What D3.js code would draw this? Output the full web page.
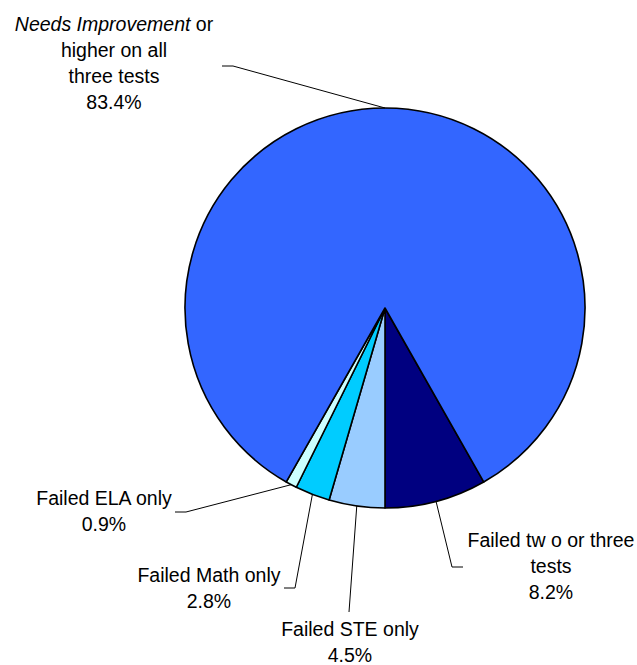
<!DOCTYPE html>
<html>
<head>
<meta charset="utf-8">
<script src="https://cdn.jsdelivr.net/npm/d3@7"></script>
<style>
  body { margin: 0; background: #fff; }
  svg text { font-family: "Liberation Sans", Arial, sans-serif; font-size: 19.5px; fill: #000; }
</style>
</head>
<body>
<svg id="chart" width="637" height="665"></svg>
<script>
// slices, clockwise starting from the dark one
const categories = ["Failed two or three tests", "Failed STE only", "Failed Math only", "Failed ELA only", "Needs Improvement or higher on all three tests"];
const values = [8.2, 4.5, 2.8, 0.9, 83.4];
const colors = ["#000080", "#99CCFF", "#00CCFF", "#CCFFFF", "#3366FF"];

// label text lines (as shown in the picture)
const labelLines = [
  ["Failed tw o or three", "tests", "8.2%"],
  ["Failed STE only", "4.5%"],
  ["Failed Math only", "2.8%"],
  ["Failed ELA only", "0.9%"],
  ["", "higher on all", "three tests", "83.4%"]
];

// label layout: text centre, first baseline, leader elbow + end
const labelLayout = [
  { x: 551, y: 547, elbow: [452, 567], end: [463, 567] },
  { x: 350, y: 636, elbow: [349, 612], end: [349, 612] },
  { x: 209, y: 582, elbow: [295, 588], end: [284, 588] },
  { x: 104, y: 505, elbow: [186, 512], end: [175, 512] },
  { x: 114, y: 31, elbow: [233, 66], end: [222, 66] }
];

const cx = 385, cy = 308, r = 200, lineH = 26;
const svg = d3.select("#chart");

const total = d3.sum(values);
const start = Math.PI - (values[0] / total) * 2 * Math.PI;
const pie = d3.pie().sort(null).value(d => d).startAngle(start).endAngle(start + 2 * Math.PI);
const arcs = pie(values);
const arc = d3.arc().innerRadius(0).outerRadius(r);

const g = svg.append("g").attr("transform", `translate(${cx},${cy})`);

g.selectAll("path")
  .data(arcs)
  .join("path")
  .attr("d", arc)
  .attr("fill", (d, i) => colors[i])
  .attr("stroke", "#000")
  .attr("stroke-width", 1.6)
  .attr("stroke-linejoin", "round");

// leader lines
arcs.forEach((d, i) => {
  const mid = (d.startAngle + d.endAngle) / 2;
  const p0 = [cx + r * Math.sin(mid), cy - r * Math.cos(mid)];
  const L = labelLayout[i];
  svg.append("polyline")
    .attr("points", [p0, L.elbow, L.end].map(p => p.join(",")).join(" "))
    .attr("fill", "none")
    .attr("stroke", "#000")
    .attr("stroke-width", 1);
});

// labels
labelLines.forEach((lines, i) => {
  const L = labelLayout[i];
  const t = svg.append("text").attr("text-anchor", "middle");
  lines.forEach((s, j) => {
    const ts = t.append("tspan").attr("x", L.x).attr("y", L.y + j * lineH);
    if (i === 4 && j === 0) {
      ts.append("tspan").attr("font-style", "italic").text("Needs Improvement");
      ts.append("tspan").text(" or");
    } else {
      ts.text(s);
    }
  });
});
</script>
</body>
</html>
